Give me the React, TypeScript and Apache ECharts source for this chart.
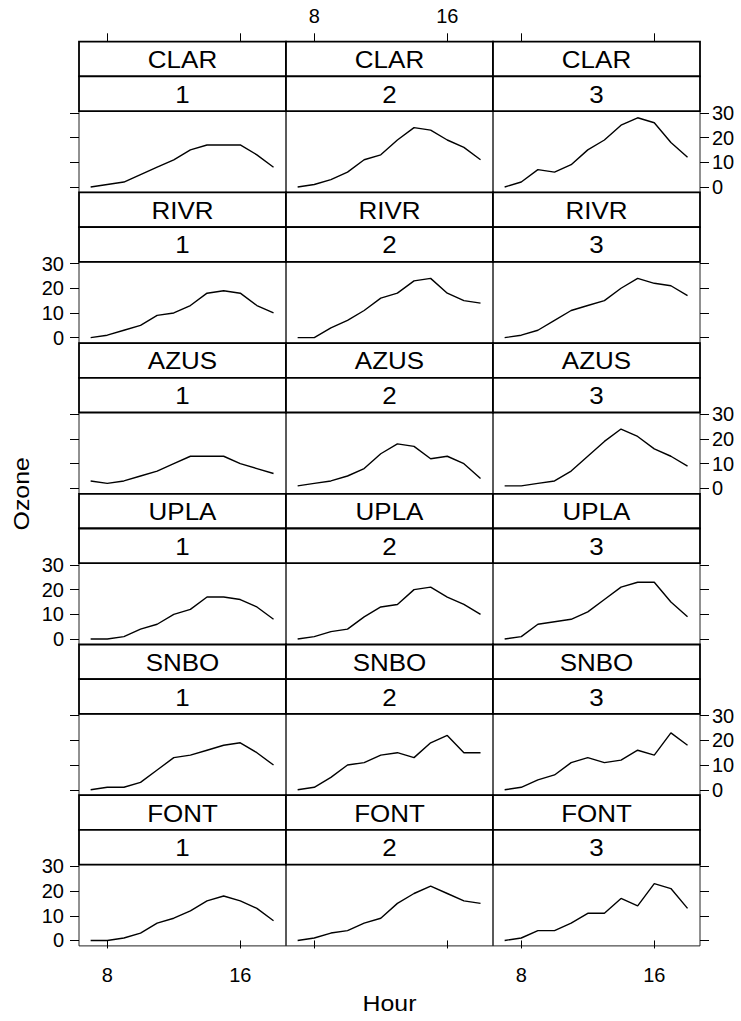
import React, { useEffect, useRef } from "react";
import * as echarts from "echarts";

// Hourly ozone readings, one panel per site and day
const HOURS = [7, 8, 9, 10, 11, 12, 13, 14, 15, 16, 17, 18];
const SITES = ["CLAR", "RIVR", "AZUS", "UPLA", "SNBO", "FONT"];
const DAYS = ["1", "2", "3"];

const CLAR = [
  [0, 1, 2, 5, 8, 11, 15, 17, 17, 17, 13, 8],
  [0, 1, 3, 6, 11, 13, 19, 24, 23, 19, 16, 11],
  [0, 2, 7, 6, 9, 15, 19, 25, 28, 26, 18, 12],
];
const RIVR = [
  [0, 1, 3, 5, 9, 10, 13, 18, 19, 18, 13, 10],
  [0, 0, 4, 7, 11, 16, 18, 23, 24, 18, 15, 14],
  [0, 1, 3, 7, 11, 13, 15, 20, 24, 22, 21, 17],
];
const AZUS = [
  [3, 2, 3, 5, 7, 10, 13, 13, 13, 10, 8, 6],
  [1, 2, 3, 5, 8, 14, 18, 17, 12, 13, 10, 4],
  [1, 1, 2, 3, 7, 13, 19, 24, 21, 16, 13, 9],
];
const UPLA = [
  [0, 0, 1, 4, 6, 10, 12, 17, 17, 16, 13, 8],
  [0, 1, 3, 4, 9, 13, 14, 20, 21, 17, 14, 10],
  [0, 1, 6, 7, 8, 11, 16, 21, 23, 23, 15, 9],
];
const SNBO = [
  [0, 1, 1, 3, 8, 13, 14, 16, 18, 19, 15, 10],
  [0, 1, 5, 10, 11, 14, 15, 13, 19, 22, 15, 15],
  [0, 1, 4, 6, 11, 13, 11, 12, 16, 14, 23, 18],
];
const FONT = [
  [0, 0, 1, 3, 7, 9, 12, 16, 18, 16, 13, 8],
  [0, 1, 3, 4, 7, 9, 15, 19, 22, 19, 16, 15],
  [0, 1, 4, 4, 7, 11, 11, 17, 14, 23, 21, 13],
];
const SITE_VALUES = [CLAR, RIVR, AZUS, UPLA, SNBO, FONT];

const HOUR_TICKS = [8, 16];
const OZONE_TICKS = [0, 10, 20, 30];

// Trellis geometry (pixels)
const LEFT = 79;
const COL_W = 207;
const TOP = 41.7;
const ROW_H = 150.7;
const STRIP_H = 34.7;
const PANEL_H = ROW_H - 2 * STRIP_H;
const FONT_FAMILY = "'Liberation Sans', Arial, sans-serif";
const TEXT_STRETCH = 1.13;

export default function App() {
  const ref = useRef<HTMLDivElement>(null);

  useEffect(() => {
    document.body.style.margin = "0";
    const chart = echarts.init(ref.current!, null, { renderer: "svg" });

    const grids: any[] = [];
    const xAxes: any[] = [];
    const yAxes: any[] = [];
    const series: any[] = [];
    const graphics: any[] = [];

    const tickStyle = { color: "#000", width: 1 };
    const labelStyle = { color: "#000", fontSize: 20, fontFamily: FONT_FAMILY };

    SITES.forEach((site, r) => {
      DAYS.forEach((day, c) => {
        const g = r * 3 + c;
        const left = LEFT + c * COL_W;
        const rowTop = TOP + r * ROW_H;
        const panelTop = rowTop + 2 * STRIP_H;

        grids.push({
          left,
          top: panelTop,
          width: COL_W,
          height: PANEL_H,
          show: true,
          borderColor: "#222",
          borderWidth: 1,
          backgroundColor: "transparent",
        });

        const isBottom = r === SITES.length - 1;
        const xIndex = xAxes.length;
        xAxes.push({
          type: "value",
          gridIndex: g,
          position: "bottom",
          min: 6.3,
          max: 18.75,
          axisLine: { show: false },
          splitLine: { show: false },
          axisTick: {
            show: isBottom,
            length: 8,
            customValues: HOUR_TICKS,
            lineStyle: tickStyle,
          },
          axisLabel: {
            show: isBottom && c !== 1,
            customValues: HOUR_TICKS,
            margin: 19,
            ...labelStyle,
          },
        });

        if (r === 0) {
          xAxes.push({
            type: "value",
            gridIndex: g,
            position: "top",
            offset: 2 * STRIP_H,
            min: 6.3,
            max: 18.75,
            axisLine: { show: false },
            splitLine: { show: false },
            axisTick: {
              show: true,
              length: 8.4,
              customValues: HOUR_TICKS,
              lineStyle: tickStyle,
            },
            axisLabel: {
              show: c === 1,
              customValues: HOUR_TICKS,
              margin: 16,
              ...labelStyle,
            },
          });
        }

        const labelLeft = r % 2 === 1;
        yAxes.push({
          type: "value",
          gridIndex: g,
          position: c === 2 ? "right" : "left",
          min: -2.2,
          max: 30.7,
          show: c !== 1,
          axisLine: { show: false },
          splitLine: { show: false },
          axisTick: {
            show: c !== 1,
            length: 9,
            customValues: OZONE_TICKS,
            lineStyle: tickStyle,
          },
          axisLabel: {
            show: (c === 0 && labelLeft) || (c === 2 && !labelLeft),
            customValues: OZONE_TICKS,
            margin: c === 0 ? 15 : 12,
            ...labelStyle,
          },
        });

        series.push({
          type: "line",
          xAxisIndex: xIndex,
          yAxisIndex: g,
          symbol: "none",
          silent: true,
          lineStyle: { color: "#000", width: 1.4 },
          data: HOURS.map((h, i) => [h, SITE_VALUES[r][c][i]]),
        });

        // strips: site name above day number
        [site, day].forEach((label, k) => {
          const sTop = rowTop + k * STRIP_H;
          graphics.push({
            type: "rect",
            shape: { x: left, y: sTop, width: COL_W, height: STRIP_H },
            style: { fill: "#fff", stroke: "#000", lineWidth: 1.8 },
            z: 1,
          });
          graphics.push({
            type: "text",
            x: left + COL_W / 2,
            y: sTop + STRIP_H / 2 + 1,
            scaleX: TEXT_STRETCH,
            z: 2,
            style: {
              text: label,
              x: 0,
              y: 0,
              textAlign: "center",
              textVerticalAlign: "middle",
              align: "center",
              verticalAlign: "middle",
              fontSize: 23,
              fontFamily: FONT_FAMILY,
              fill: "#000",
            },
          });
        });
      });
    });

    const midY = TOP + (SITES.length * ROW_H) / 2;
    graphics.push({
      type: "text",
      x: LEFT + (3 * COL_W) / 2,
      y: 1004,
      scaleX: TEXT_STRETCH,
      style: {
        text: "Hour",
        x: 0,
        y: 0,
        textAlign: "center",
        textVerticalAlign: "middle",
        align: "center",
        verticalAlign: "middle",
        fontSize: 22,
        fontFamily: FONT_FAMILY,
        fill: "#000",
      },
    });
    graphics.push({
      type: "text",
      x: 22,
      y: midY,
      rotation: Math.PI / 2,
      scaleX: TEXT_STRETCH,
      style: {
        text: "Ozone",
        x: 0,
        y: 0,
        textAlign: "center",
        textVerticalAlign: "middle",
        align: "center",
        verticalAlign: "middle",
        fontSize: 22,
        fontFamily: FONT_FAMILY,
        fill: "#000",
      },
    });

    chart.setOption({
      animation: false,
      backgroundColor: "#fff",
      grid: grids,
      xAxis: xAxes,
      yAxis: yAxes,
      series,
      graphic: graphics,
    });

    return () => chart.dispose();
  }, []);

  return (
    <div
      ref={ref}
      style={{ position: "absolute", left: 0, top: 0, width: 741, height: 1021 }}
    />
  );
}
